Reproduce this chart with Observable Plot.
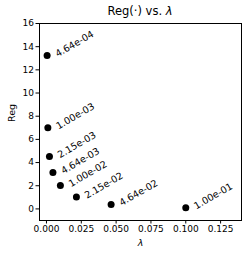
<!DOCTYPE html>
<html>
<head>
<meta charset="utf-8">
<script src="https://cdn.jsdelivr.net/npm/d3@7"></script>
<script src="https://cdn.jsdelivr.net/npm/@observablehq/plot@0.6"></script>
<style>
  body { margin: 0; background: #fff; }
  #wrap { position: relative; width: 249px; height: 257px; font-family: "DejaVu Sans", sans-serif; }
  #title { position: absolute; left: 39px; width: 202px; top: 4px; text-align: center; font-size: 11.5px; line-height: 14px; color: #000; }
  #chart { position: absolute; left: 0; top: 0; }
</style>
</head>
<body>
<div id="wrap">
  <div id="chart"></div>
  <div id="title">Reg(·) vs. <i>λ</i></div>
</div>
<script>
const lambdas = [0.000464, 0.001, 0.00215, 0.00464, 0.01, 0.0215, 0.0464, 0.1];
const regs = [13.23, 7.0, 4.52, 3.14, 2.02, 1.02, 0.38, 0.1];
const pointLabels = ["4.64e-04", "1.00e-03", "2.15e-03", "4.64e-03", "1.00e-02", "2.15e-02", "4.64e-02", "1.00e-01"];
const xTicks = [0, 0.025, 0.05, 0.075, 0.1, 0.125];
const yTicks = [0, 2, 4, 6, 8, 10, 12, 14, 16];

const data = lambdas.map((l, i) => ({lambda: l, reg: regs[i], label: pointLabels[i]}));

const chart = Plot.plot({
  width: 249,
  height: 257,
  marginLeft: 39,
  marginRight: 8,
  marginTop: 23,
  marginBottom: 37,
  style: {fontFamily: "DejaVu Sans, sans-serif", fontSize: "9px", color: "#000", background: "#fff"},
  x: {domain: [-0.005, 0.14]},
  y: {domain: [-1, 16]},
  marks: [
    Plot.axisX({ticks: xTicks, tickFormat: d3.format(".3f"), tickSize: 3.5, tickPadding: 2, label: null}),
    Plot.axisY({ticks: yTicks, tickFormat: d => String(d), tickSize: 3.5, tickPadding: 2, label: null}),
    Plot.frame({stroke: "#000", strokeWidth: 1}),
    Plot.dot(data, {x: "lambda", y: "reg", r: 3.5, fill: "#000", stroke: null}),
    Plot.text(data, {x: "lambda", y: "reg", text: "label", rotate: -30, textAnchor: "start", dx: 9, dy: -1, fill: "#000", fontSize: 9.5}),
    Plot.text(["λ"], {frameAnchor: "bottom", dy: 25, fontStyle: "italic", fontSize: 9.5, fill: "#000"}),
    Plot.text(["Reg"], {frameAnchor: "left", dx: -28, rotate: -90, fontSize: 9.5, fill: "#000"})
  ]
});
document.getElementById("chart").appendChild(chart);
</script>
</body>
</html>
